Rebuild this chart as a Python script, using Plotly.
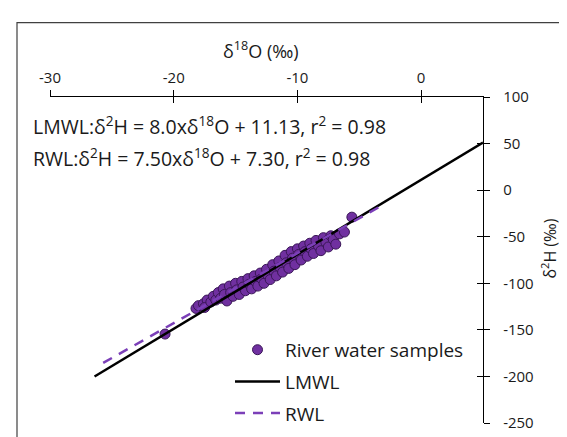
import plotly.graph_objects as go

# River water samples (δ18O, δ2H)
sample_d18o = [-20.7, -18.2, -18.0, -17.6, -17.3, -17.5, -17.0, -16.8, -16.6, -16.4, -16.2,
               -16.0, -15.9, -15.7, -15.5, -15.4, -15.2, -15.0, -14.9, -14.7, -14.5, -14.4,
               -14.2, -14.0, -13.9, -13.7, -13.5, -13.4, -13.2, -13.0, -12.9, -12.7, -12.5,
               -12.4, -12.2, -12.0, -11.9, -11.7, -11.5, -11.4, -11.2, -11.0, -10.9, -10.7,
               -10.5, -10.4, -10.2, -10.0, -9.9, -9.7, -9.5, -9.4, -9.2, -9.0, -8.9, -8.7,
               -8.5, -8.3, -8.1, -7.9, -7.7, -7.5, -7.3, -7.1, -6.9, -6.6, -6.2, -5.6]
sample_d2h = [-154.5, -127, -124, -122, -118, -126, -120, -114, -118, -110, -116,
              -106, -112, -119, -103, -110, -114, -100, -107, -112, -98, -104,
              -108, -95, -101, -106, -92, -98, -103, -89, -95, -100, -85,
              -91, -96, -80, -87, -92, -76, -83, -88, -70, -78, -84,
              -66, -73, -80, -63, -69, -75, -60, -66, -71, -57, -63, -68,
              -54, -60, -65, -51, -56, -61, -49, -53, -58, -47, -45, -29]

# Fitted lines: end points
lmwl_x = [-26.4, 5.0]
lmwl_y = [-200.1, 51.1]
rwl_x = [-25.7, -3.0]
rwl_y = [-185.5, -15.2]

x_ticks = [-30, -20, -10, 0]
x_tick_text = ["-30", "-20", "-10", "0"]
y_ticks = [100, 50, 0, -50, -100, -150, -200, -250]
y_tick_text = ["100", "50", "0", "-50", "-100", "-150", "-200", "-250"]

x_title = "δ<sup>18</sup>O (‰)"
y_title = "δ<sup>2</sup>H (‰)"
eq_lmwl = "LMWL:δ<sup>2</sup>H = 8.0xδ<sup>18</sup>O + 11.13, r<sup>2</sup> = 0.98"
eq_rwl = "RWL:δ<sup>2</sup>H = 7.50xδ<sup>18</sup>O + 7.30, r<sup>2</sup> = 0.98"

FONT = "Open Sans"
TXT = "#1a1a1a"
W, H = 567, 437
L, R, T, B = 42, 92, 89, 19
PW, PH = W - L - R, H - T - B

def px_x(p):
    return (p - L) / PW

def px_y(p):
    return 1 - (p - T) / PH

fig = go.Figure()

fig.add_trace(go.Scatter(
    x=sample_d18o, y=sample_d2h, mode="markers", name="River water samples",
    marker=dict(size=10, color="#7030A0", line=dict(color="#3a1757", width=1)),
    legendgroup="a"))
fig.add_trace(go.Scatter(
    x=lmwl_x, y=lmwl_y, mode="lines", name="LMWL",
    line=dict(color="black", width=2.5), legendgroup="b"))
fig.add_trace(go.Scatter(
    x=rwl_x, y=rwl_y, mode="lines", name="RWL",
    line=dict(color="#7b3fb8", width=2.5, dash="10px,8px"), legendgroup="c"))
# invisible trace on overlay axes (for crossing tick marks)
fig.add_trace(go.Scatter(x=[lmwl_x[0]], y=[lmwl_y[0]], xaxis="x2", yaxis="y2",
                         mode="markers", marker=dict(opacity=0), showlegend=False,
                         hoverinfo="skip"))

axis_font = dict(family=FONT, size=15, color=TXT)

fig.update_layout(
    width=W, height=H,
    margin=dict(l=L, r=R, t=T, b=B),
    paper_bgcolor="white", plot_bgcolor="white",
    font=dict(family=FONT, size=15, color=TXT),
    xaxis=dict(side="top", range=[-30, 5], tickvals=x_ticks, ticktext=x_tick_text,
               ticks="outside", ticklen=6, tickwidth=1.3, tickcolor="black",
               showline=True, linecolor="black", linewidth=1.3, showgrid=False,
               zeroline=False, tickfont=axis_font, ticklabelstandoff=1),
    yaxis=dict(side="right", range=[-250, 100], tickvals=y_ticks, ticktext=y_tick_text,
               ticks="outside", ticklen=6, tickwidth=1.3, tickcolor="black",
               showline=True, linecolor="black", linewidth=1.3, showgrid=False,
               zeroline=False, tickfont=axis_font, ticklabelstandoff=10),
    xaxis2=dict(overlaying="x", side="top", anchor="y", range=[-30, 5],
                tickvals=x_ticks, ticks="inside", ticklen=6, tickwidth=1.3,
                tickcolor="black", showticklabels=False, showline=False,
                showgrid=False, zeroline=False),
    yaxis2=dict(overlaying="y", side="right", anchor="x", range=[-250, 100],
                tickvals=y_ticks, ticks="inside", ticklen=6, tickwidth=1.3,
                tickcolor="black", showticklabels=False, showline=False,
                showgrid=False, zeroline=False),
    legend=dict(x=px_x(222), y=px_y(325), xanchor="left", yanchor="top",
                bgcolor="rgba(0,0,0,0)", font=dict(family=FONT, size=19, color=TXT),
                traceorder="grouped", tracegroupgap=4, itemwidth=45),
    showlegend=True,
)

fig.add_annotation(text=x_title, xref="paper", yref="paper", x=px_x(253), y=px_y(42),
                   xanchor="center", yanchor="middle", showarrow=False,
                   font=dict(family=FONT, size=18, color=TXT))
fig.add_annotation(text=y_title, xref="paper", yref="paper", x=px_x(541), y=px_y(242),
                   xanchor="center", yanchor="middle", showarrow=False, textangle=-90,
                   font=dict(family=FONT, size=16, color=TXT))
fig.add_annotation(text=eq_lmwl, xref="paper", yref="paper", x=px_x(23), y=px_y(118),
                   xanchor="left", yanchor="middle", showarrow=False,
                   font=dict(family=FONT, size=19.5, color=TXT))
fig.add_annotation(text=eq_rwl, xref="paper", yref="paper", x=px_x(23), y=px_y(150),
                   xanchor="left", yanchor="middle", showarrow=False,
                   font=dict(family=FONT, size=19.5, color=TXT))

# chart-area frame
fig.add_shape(type="rect", xref="paper", yref="paper",
              x0=px_x(9), x1=px_x(566), y0=px_y(460), y1=px_y(14),
              line=dict(color="#404040", width=1.2), fillcolor="rgba(0,0,0,0)", layer="below")

fig.write_html("out.html")
